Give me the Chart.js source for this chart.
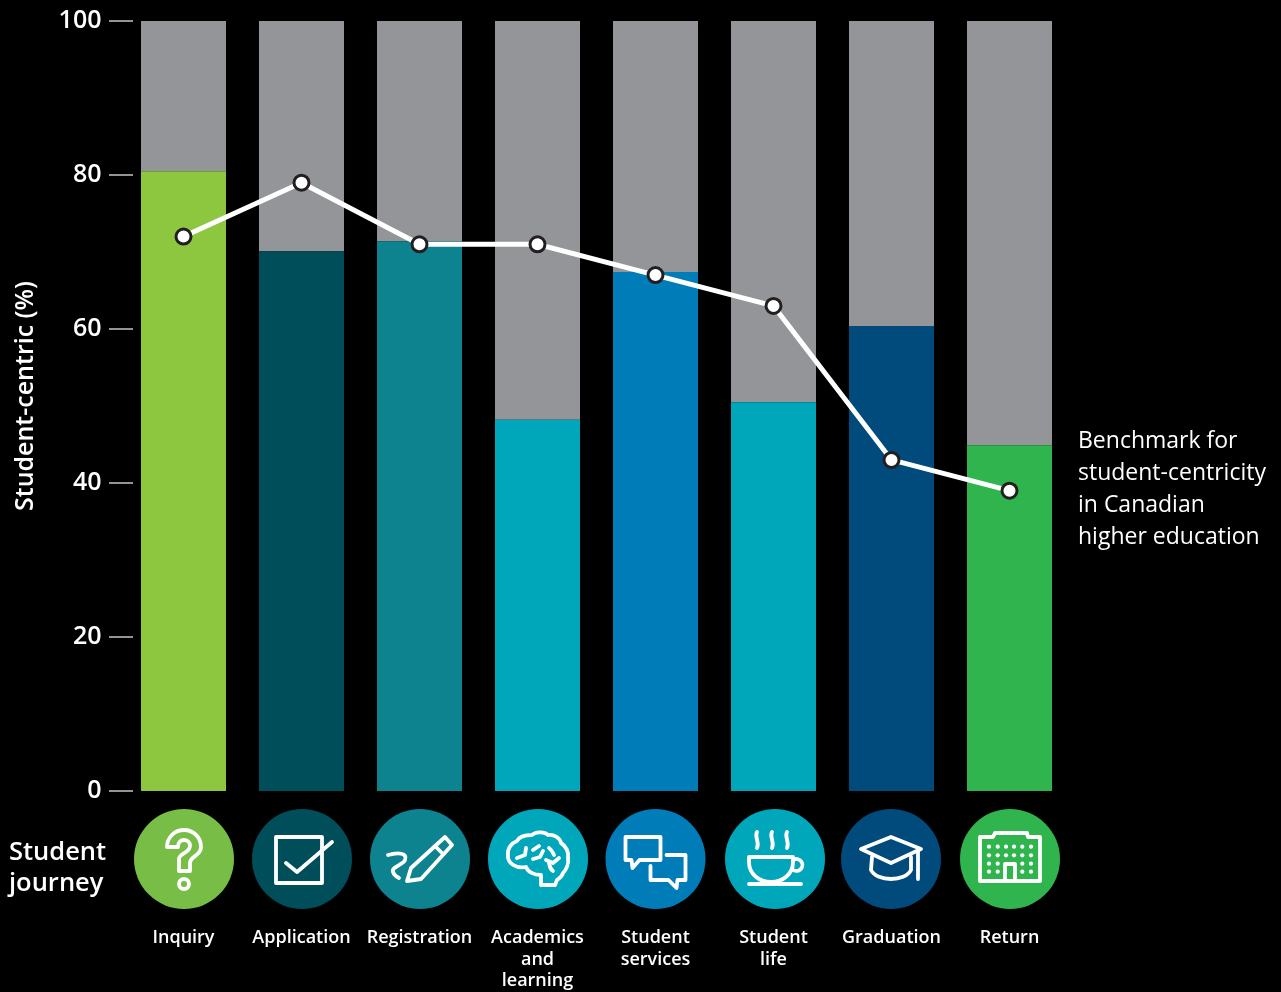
<!DOCTYPE html>
<html>
<head>
<meta charset="utf-8">
<style>
html, body { margin: 0; padding: 0; background: #000; }
canvas { display: block; }
</style>
<script src="https://cdn.jsdelivr.net/npm/chart.js@4"></script>
</head>
<body>
<canvas id="journeyChart" width="1281" height="992"></canvas>
<script>
const categories = ['Inquiry', 'Application', 'Registration', ['Academics', 'and', 'learning'],
    ['Student', 'services'], ['Student', 'life'], 'Graduation', 'Return'];
const studentCentric = [80.5, 70.1, 71.4, 48.2, 67.4, 50.5, 60.4, 44.9];
const remainder = [19.5, 29.9, 28.6, 51.8, 32.6, 49.5, 39.6, 55.1];
const benchmark = [72, 79, 71, 71, 67, 63, 43, 39];
const barColors = ['#8dc63f', '#004e5a', '#0d8390', '#00a7bb', '#007cb8', '#00a7bb', '#004a7c', '#2fb44e'];
const circleColors = ['#78be46', '#004e5a', '#0d8390', '#00a7bb', '#007cb8', '#00a7bb', '#004a7c', '#2fb44e'];
const yTicks = [0, 20, 40, 60, 80, 100];
const benchmarkNote = ['Benchmark for', 'student-centricity', 'in Canadian', 'higher education'];

const FONT = '"Open Sans", "Noto Sans", sans-serif';

// icon outlines, drawn around each circle's centre
const icons = [
    // question mark
    ['M-17,-12 C-17,-22 -9,-29 0,-29 C10,-29 17,-21 17,-12 C17,-3 6,-3 6,4 L6,12 L-5,12 L-5,0 C-5,-6 6,-6 6,-13 C6,-17 3,-19 0,-19 C-3,-19 -6,-17 -6,-12 Z',
     'M5,25 A5,5 0 1 1 -5,25 A5,5 0 1 1 5,25 Z'],
    // check box
    ['M-26,-22 L20,-22 L20,24 L-26,24 Z', 'M-16,4 L-5,13 L30,-17'],
    // pen and squiggle
    ['M-32,-4 C-22,-7 -12,-6 -15,1 C-17,6 -29,8 -27,13 C-26,16 -23,18 -21,19',
     'M-13,22 L-9,9 L25,-22 L32,-14 L1,20 Z', 'M15,-13 L23,-5'],
    // brain
    ['M3,26 L3,16 C-4,16 -10,13 -12,8 C-22,10 -31,4 -30,-4 C-31,-11 -26,-16 -21,-18 C-18,-24 -9,-24 -6,-24 C-3,-27 6,-28 10,-24 C16,-25 22,-21 23,-16 C28,-13 31,-7 30,-1 C31,5 28,11 25,14 C24,18 20,20 19,21 L17,26 Z',
     'M-21,-1 L-13,-4 L-12,-11', 'M-5,-9 L1,-13', 'M-5,0 L2,-2 L5,-8', 'M11,-11 C14,-9 15,-6 16,-4', 'M8,1 L15,4 L21,-1', 'M11,4 C12,8 12,10 15,12'],
    // speech bubbles
    ['M-30,-22 L5,-22 L5,1 L-16,1 L-23,9 L-24,1 L-30,1 Z',
     'M11,-4 L30,-4 L30,21 L22,21 L21,29 L13,21 L-5,21 L-5,7'],
    // coffee cup
    ['M-26,-2 L18,-2 L18,3 C18,15 8,23 -4,23 C-16,23 -26,15 -26,3 Z',
     'M18,1 A6,6 0 1 1 17,10',
     'M-26,25 L26,25',
     'M-18,-27 C-21,-22 -15,-17 -18,-11', 'M-3,-27 C-6,-22 0,-17 -3,-11', 'M12,-27 C9,-22 15,-17 12,-11'],
    // graduation cap
    ['M-30,-10 L0,-22 L30,-10 L0,4 Z',
     'M-19,-2 L-20,11 C-14,23 14,23 20,11 L20,-2',
     'M27,-8 L27,20'],
    // campus building
    ['M-30,-22 L-17,-22 L-15,-26 L17,-26 L18,-22 L30,-22 L30,22 L-30,22 Z',
     'M-5,22 L-5,5 L5,5 L5,22']
];
const buildingDotsX = [-21, -12.3, -4, 4, 12.3, 21];
const buildingDotsY = [-12.3, -3.7, 4.7, 12.7];
const circleNudge = [0.5, 0.5, 0.5, 0.5, 0, 1.5, -0.5, 0.5];

// y axis tick dashes, placed a little inside the plot area's left edge
const tickMarks = {
    id: 'tickMarks',
    afterDraw(chart) {
        const ctx = chart.ctx;
        const y = chart.scales.y;
        ctx.save();
        ctx.strokeStyle = '#c4c4c4';
        ctx.lineWidth = 1.5;
        yTicks.forEach(t => {
            const py = y.getPixelForValue(t);
            ctx.beginPath();
            ctx.moveTo(109, py);
            ctx.lineTo(133, py);
            ctx.stroke();
        });
        ctx.restore();
    }
};

// circles with icons under each bar
const journeyIcons = {
    id: 'journeyIcons',
    afterDraw(chart) {
        const ctx = chart.ctx;
        const x = chart.scales.x;
        categories.forEach((c, i) => {
            const cx = x.getPixelForTick(i) + circleNudge[i];
            const cy = 859;
            ctx.save();
            ctx.translate(cx, cy);
            ctx.fillStyle = circleColors[i];
            ctx.beginPath();
            ctx.arc(0, 0, 50, 0, Math.PI * 2);
            ctx.fill();
            ctx.strokeStyle = '#fff';
            ctx.lineWidth = 3.8;
            ctx.lineJoin = 'round';
            ctx.lineCap = 'round';
            icons[i].forEach(d => ctx.stroke(new Path2D(d)));
            if (i === 7) {
                ctx.fillStyle = '#fff';
                buildingDotsY.forEach((dy, row) => {
                    buildingDotsX.forEach((dx, col) => {
                        if (row > 1 && (col === 2 || col === 3)) return;
                        ctx.beginPath();
                        ctx.arc(dx, dy, 2.1, 0, Math.PI * 2);
                        ctx.fill();
                    });
                });
            }
            ctx.restore();
        });
    }
};

// axis title and side notes
const sideText = {
    id: 'sideText',
    afterDraw(chart) {
        const ctx = chart.ctx;
        ctx.save();
        ctx.fillStyle = '#fff';
        ctx.textBaseline = 'middle';

        ctx.font = '600 25.5px ' + FONT;
        ctx.textAlign = 'left';
        ctx.fillText('Student', 9, 853);
        ctx.fillText('journey', 9, 884);

        ctx.font = '400 23px ' + FONT;
        benchmarkNote.forEach((line, i) => ctx.fillText(line, 1078, 441 + i * 32));

        ctx.translate(26, 396);
        ctx.rotate(-Math.PI / 2);
        ctx.textAlign = 'center';
        ctx.font = '600 25px ' + FONT;
        ctx.fillText('Student-centric (%)', 0, 0);
        ctx.restore();
    }
};

new Chart(document.getElementById('journeyChart').getContext('2d'), {
    data: {
        labels: categories,
        datasets: [
            {
                type: 'line',
                label: 'Benchmark',
                data: benchmark,
                borderColor: '#fff',
                borderWidth: 5,
                tension: 0,
                pointRadius: 7.5,
                pointBorderWidth: 3,
                pointBackgroundColor: '#fff',
                pointBorderColor: '#231f20',
                order: 0
            },
            {
                type: 'bar',
                label: 'Student-centric',
                data: studentCentric,
                backgroundColor: barColors,
                barPercentage: 85 / 118,
                categoryPercentage: 1,
                order: 2
            },
            {
                type: 'bar',
                label: 'Remainder',
                data: remainder,
                backgroundColor: '#939598',
                barPercentage: 85 / 118,
                categoryPercentage: 1,
                order: 2
            }
        ]
    },
    options: {
        responsive: false,
        animation: false,
        layout: { padding: { top: 21, bottom: 0, left: 0, right: 212.5 } },
        plugins: { legend: { display: false }, tooltip: { enabled: false } },
        scales: {
            x: {
                stacked: true,
                grid: { display: false },
                border: { display: false },
                ticks: {
                    color: '#fff',
                    font: { family: FONT, size: 18, weight: '600', lineHeight: 1.2 },
                    autoSkip: false,
                    maxRotation: 0,
                    minRotation: 0,
                    padding: 128
                },
                afterFit(scale) { scale.height = 201; }
            },
            y: {
                stacked: true,
                min: 0,
                max: 100,
                grid: { display: false },
                border: { display: false },
                ticks: {
                    color: '#fff',
                    font: { family: FONT, size: 25, weight: '600' },
                    stepSize: 20,
                    padding: 15
                },
                afterFit(scale) {
                    scale.width = 124.5;
                    scale.paddingTop = 0;
                    scale.paddingBottom = 0;
                }
            }
        }
    },
    plugins: [tickMarks, journeyIcons, sideText]
});
</script>
</body>
</html>
